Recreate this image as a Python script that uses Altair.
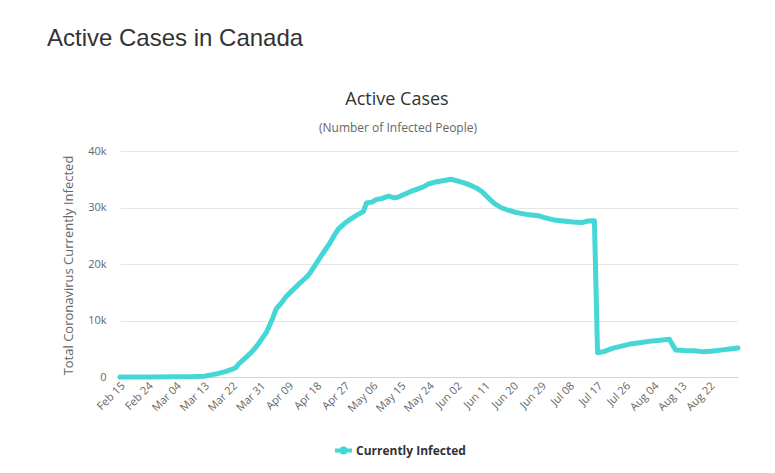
import altair as alt
import pandas as pd

# ---- data (estimated) ----
dates = [
    "2020-02-15", "2020-02-25", "2020-03-04", "2020-03-10", "2020-03-13",
    "2020-03-17", "2020-03-20", "2020-03-22", "2020-03-23", "2020-03-24",
    "2020-03-26", "2020-03-28", "2020-03-30", "2020-04-01", "2020-04-02",
    "2020-04-04", "2020-04-05", "2020-04-07", "2020-04-08", "2020-04-10",
    "2020-04-12", "2020-04-14", "2020-04-15", "2020-04-16", "2020-04-18",
    "2020-04-20", "2020-04-22", "2020-04-24", "2020-04-25", "2020-04-27",
    "2020-04-29", "2020-05-01", "2020-05-03", "2020-05-04", "2020-05-06",
    "2020-05-07", "2020-05-09", "2020-05-11", "2020-05-13", "2020-05-14",
    "2020-05-16", "2020-05-18", "2020-05-20", "2020-05-22", "2020-05-24",
    "2020-05-26", "2020-05-28", "2020-05-31", "2020-06-02", "2020-06-04",
    "2020-06-06", "2020-06-08", "2020-06-10", "2020-06-12", "2020-06-14",
    "2020-06-16", "2020-06-18", "2020-06-20", "2020-06-22", "2020-06-25",
    "2020-06-28", "2020-06-30", "2020-07-03", "2020-07-06", "2020-07-09",
    "2020-07-12", "2020-07-14", "2020-07-16", "2020-07-17", "2020-07-19",
    "2020-07-22", "2020-07-25", "2020-07-28", "2020-07-31", "2020-08-03",
    "2020-08-06", "2020-08-09", "2020-08-11", "2020-08-14", "2020-08-17",
    "2020-08-20", "2020-08-23", "2020-08-26", "2020-08-29", "2020-08-31",
]
active = [
    7, 8, 25, 80, 150,
    550, 1000, 1400, 1600, 2300,
    3300, 4300, 5600, 7200, 8000,
    10500, 12000, 13300, 14100, 15200,
    16300, 17300, 17800, 18500, 20200,
    21900, 23500, 25400, 26200, 27200,
    28000, 28700, 29300, 30800, 31000,
    31400, 31600, 32000, 31700, 31800,
    32300, 32800, 33200, 33600, 34200,
    34500, 34700, 35000, 34700, 34400,
    34000, 33500, 32800, 31700, 30700,
    30000, 29600, 29250, 29000, 28700,
    28550, 28200, 27800, 27600, 27450,
    27350, 27600, 27650, 4300, 4500,
    5100, 5500, 5900, 6100, 6350,
    6500, 6700, 4800, 4700, 4650,
    4450, 4600, 4800, 5000, 5150,
]
series_name = "Currently Infected"

# x tick labels every 9 days (month, day)
x_ticks = [
    (2, 15), (2, 24), (3, 4), (3, 13), (3, 22), (3, 31), (4, 9), (4, 18),
    (4, 27), (5, 6), (5, 15), (5, 24), (6, 2), (6, 11), (6, 20), (6, 29),
    (7, 8), (7, 17), (7, 26), (8, 4), (8, 13), (8, 22),
]
y_ticks = [0, 10000, 20000, 30000, 40000]

page_heading = "Active Cases in Canada"
chart_title = ["Active Cases"]
chart_subtitle = ["(Number of Infected People)"]
y_title = "Total Coronavirus Currently Infected"

LINE = "#45d6d6"
FONT = "Open Sans"

df = pd.DataFrame({
    "date": [d + "T00:00:00" for d in dates],
    "active": active,
    "series": series_name,
})

x_enc = alt.X(
    "date:T",
    scale=alt.Scale(domain=[alt.DateTime(year=2020, month=2, date=15),
                            alt.DateTime(year=2020, month=8, date=31)]),
    axis=alt.Axis(
        values=[alt.DateTime(year=2020, month=m, date=d) for m, d in x_ticks],
        format="%b %d", labelAngle=-45, labelAlign="right", labelBaseline="middle",
        labelFont=FONT, labelFontSize=11, labelColor="#666666", labelPadding=7,
        labelOffset=3,
        labelOverlap=False, labelFlush=False, grid=False, ticks=False,
        domainColor="#ccd6eb", title=None,
    ),
)
y_enc = alt.Y(
    "active:Q",
    scale=alt.Scale(domain=[0, 40000], nice=False),
    axis=alt.Axis(
        values=y_ticks,
        labelExpr="datum.value == 0 ? '0' : (datum.value / 1000) + 'k'",
        labelFont=FONT, labelFontSize=11, labelColor="#666666", labelPadding=14,
        grid=True, gridColor="#e6e6e6", domain=False, ticks=False,
        title=y_title, titleFont=FONT, titleFontSize=13, titleFontWeight="normal",
        titleColor="#666666", titleX=-52, titleY=114, titleAngle=270,
        titleAlign="center", titleBaseline="middle",
    ),
)

legend_symbol = "M-1,0L1,0M-0.24,0A0.24,0.24,0,1,1,0.24,0A0.24,0.24,0,1,1,-0.24,0"

line = alt.Chart(df).mark_line(strokeWidth=5, strokeJoin="round", strokeCap="round").encode(
    x=x_enc,
    y=y_enc,
    color=alt.Color(
        "series:N",
        scale=alt.Scale(domain=[series_name], range=[LINE]),
        legend=alt.Legend(
            title=None, orient="none", legendX=213, legendY=289,
            symbolType=legend_symbol, symbolSize=289, symbolStrokeWidth=4,
            symbolStrokeColor=LINE, symbolFillColor=LINE,
            labelFont=FONT, labelFontSize=12, labelFontWeight="bold",
            labelColor="#333333", labelOffset=2,
        ),
    ),
)

title_layer = alt.Chart(pd.DataFrame({"t": chart_title})).mark_text(
    font=FONT, fontSize=18, color="#333333", align="center", baseline="alphabetic"
).encode(text="t:N", x=alt.value(277), y=alt.value(-46))

subtitle_layer = alt.Chart(pd.DataFrame({"t": chart_subtitle})).mark_text(
    font=FONT, fontSize=12, color="#666666", align="center", baseline="alphabetic"
).encode(text="t:N", x=alt.value(278), y=alt.value(-19))

chart = alt.layer(line, title_layer, subtitle_layer).properties(
    width=618,
    height=226,
    title=alt.Title(page_heading, anchor="start", frame="group", dx=-73, offset=40,
                    font="Liberation Sans", fontSize=24, fontWeight="normal",
                    color="#333333"),
    padding={"left": 112, "top": 143, "right": 20, "bottom": 86},
    autosize=alt.AutoSizeParams(type="none"),
).configure_view(stroke=None)

chart.save("out.html", embed_options={"renderer": "svg", "actions": False})
